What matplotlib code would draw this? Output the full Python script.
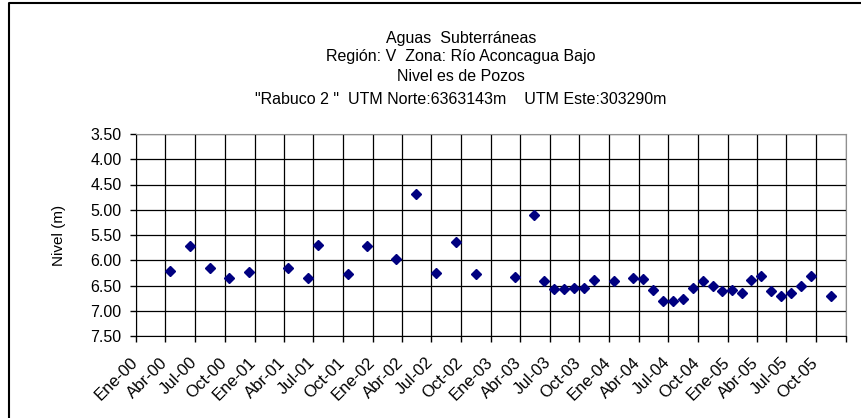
import matplotlib
matplotlib.use("Agg")
import matplotlib.pyplot as plt
import matplotlib.transforms as mtransforms
from matplotlib.lines import Line2D
import datetime as dt

plt.rcParams['font.family'] = ['Liberation Sans', 'DejaVu Sans']

# Fechas de medicion (mes de cada lectura) y nivel del pozo en metros
fechas = ["2000-04", "2000-06", "2000-08", "2000-10", "2000-12",
          "2001-04", "2001-06", "2001-07", "2001-10", "2001-12",
          "2002-03", "2002-05", "2002-07", "2002-09", "2002-11",
          "2003-03", "2003-05", "2003-06", "2003-07", "2003-08",
          "2003-09", "2003-10", "2003-11", "2004-01", "2004-03",
          "2004-04", "2004-05", "2004-06", "2004-07", "2004-08",
          "2004-09", "2004-10", "2004-11", "2004-12", "2005-01",
          "2005-02", "2005-03", "2005-04", "2005-05", "2005-06",
          "2005-07", "2005-08", "2005-09", "2005-11"]
nivel = [6.21, 5.71, 6.15, 6.36, 6.23,
         6.15, 6.35, 5.69, 6.28, 5.71,
         5.98, 4.68, 6.25, 5.64, 6.28,
         6.33, 5.11, 6.42, 6.57, 6.57,
         6.54, 6.54, 6.40, 6.41, 6.35,
         6.37, 6.59, 6.81, 6.81, 6.76,
         6.54, 6.41, 6.50, 6.61, 6.58,
         6.65, 6.40, 6.31, 6.61, 6.71,
         6.65, 6.51, 6.31, 6.71]

meses = ["Ene", "Abr", "Jul", "Oct"]
anios = ["00", "01", "02", "03", "04", "05"]
etiquetas_x = [m + "-" + a for a in anios for m in meses] + [""]
y_ticks = [3.5, 4.0, 4.5, 5.0, 5.5, 6.0, 6.5, 7.0, 7.5]

x = [dt.datetime.strptime(f + "-15", "%Y-%m-%d") for f in fechas]
ticks_x = [dt.datetime(2000 + i // 4, 1 + 3 * (i % 4), 1) for i in range(25)]

W, H = 861, 418
fig = plt.figure(figsize=(W / 100, H / 100), dpi=100)
ax = fig.add_axes([136 / W, 1 - 336 / H, 710 / W, 202 / H])

ax.plot(x, nivel, linestyle='none', marker='D', markersize=5.5,
        color='#000080', zorder=3)

ax.set_xlim(ticks_x[0], ticks_x[-1])
ax.set_ylim(7.5, 3.5)
ax.set_yticks(y_ticks)
ax.set_yticklabels(["%.2f" % v for v in y_ticks])
ax.set_xticks(ticks_x)
ax.set_xticklabels(etiquetas_x, rotation=45, ha='right', rotation_mode='anchor')
ax.tick_params(axis='both', length=4.5, width=1, color='black')
ax.tick_params(axis='y', pad=6, labelsize=11.5)
ax.tick_params(axis='x', pad=9, labelsize=12)

# desplazar un poco las etiquetas de fecha hacia la izquierda
despl = mtransforms.ScaledTranslation(-6 / 100, 0, fig.dpi_scale_trans)
for lbl in ax.get_xticklabels():
    lbl.set_transform(lbl.get_transform() + despl)

ax.grid(True, color='black', linewidth=0.9)
ax.set_axisbelow(True)
for s in ['top', 'right']:
    ax.spines[s].set_color('#909090')
for s in ['left', 'bottom']:
    ax.spines[s].set_color('black')

ax.set_ylabel("Nivel (m)", fontsize=11)
ax.yaxis.set_label_coords((66 - 136) / 710, 0.5)

titulo = ["Aguas  Subterráneas",
          "Región: V  Zona: Río Aconcagua Bajo",
          "Nivel es de Pozos",
          "\"Rabuco 2 \"  UTM Norte:6363143m    UTM Este:303290m"]
pos_y = [38, 57, 76.5, 99]
for t, py in zip(titulo, pos_y):
    fig.text(461 / W, 1 - py / H, t, ha='center', va='center', fontsize=11.5)

# marco del grafico (borde izquierdo y superior)
fig.lines.append(Line2D([9 / W, 9 / W, 1.0], [0.0, 1 - 3 / H, 1 - 3 / H],
                        transform=fig.transFigure, color='black', linewidth=1.5))

fig.savefig("out.png", dpi=100)
